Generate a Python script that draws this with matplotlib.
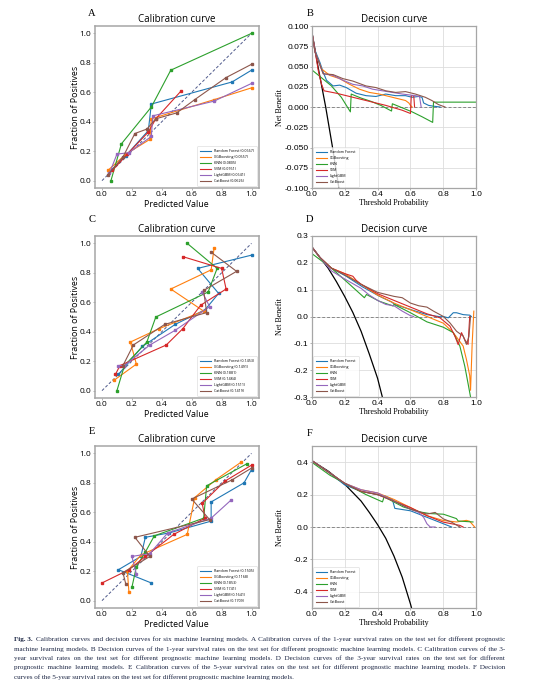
import matplotlib
matplotlib.use('Agg')
import matplotlib.pyplot as plt
from matplotlib.ticker import FormatStrFormatter

plt.rcParams['axes.unicode_minus'] = False

# ---------------- data ----------------
models = ["Random Forest", "XGBoosting", "KNN", "SVM", "LightGBM", "CatBoost"]
colors = ["#1f77b4", "#ff7f0e", "#2ca02c", "#d62728", "#9467bd", "#8c564b"]

brierA = ["0.0667", "0.0557", "0.0805", "0.0761", "0.0641", "0.0626"]
brierC = ["0.1453", "0.1491", "0.1881", "0.1484", "0.1511", "0.1419"]
brierE = ["0.1505", "0.1168", "0.1853", "0.1741", "0.1641", "0.1709"]

perfect = [0.0, 1.0]

# Panel A calibration (1-year)
calA_x = [
    [0.05, 0.16, 0.31, 0.33, 0.87, 1.0],
    [0.04, 0.16, 0.32, 0.33, 0.75, 1.0],
    [0.06, 0.13, 0.33, 0.46, 1.0],
    [0.07, 0.17, 0.31, 0.36, 0.53],
    [0.05, 0.10, 0.18, 0.33, 0.34, 0.75, 1.0],
    [0.04, 0.14, 0.22, 0.30, 0.36, 0.50, 0.62, 0.83, 1.0],
]
calA_y = [
    [0.06, 0.17, 0.34, 0.52, 0.67, 0.75],
    [0.07, 0.18, 0.28, 0.42, 0.55, 0.63],
    [0.0, 0.25, 0.50, 0.75, 1.0],
    [0.07, 0.18, 0.33, 0.42, 0.61],
    [0.05, 0.18, 0.19, 0.30, 0.44, 0.54, 0.66],
    [0.04, 0.16, 0.32, 0.35, 0.42, 0.46, 0.55, 0.70, 0.79],
]

# Panel C calibration (3-year)
calC_x = [
    [0.11, 0.27, 0.49, 0.69, 0.78, 0.64, 1.0],
    [0.08, 0.23, 0.19, 0.38, 0.68, 0.46, 0.73, 0.75],
    [0.10, 0.15, 0.30, 0.36, 0.71, 0.77, 0.57],
    [0.09, 0.12, 0.43, 0.54, 0.66, 0.83, 0.80, 0.54],
    [0.11, 0.15, 0.32, 0.49, 0.72, 0.67],
    [0.14, 0.21, 0.42, 0.70, 0.68, 0.90, 0.73],
]
calC_y = [
    [0.11, 0.30, 0.45, 0.55, 0.66, 0.83, 0.92],
    [0.07, 0.18, 0.33, 0.42, 0.54, 0.69, 0.82, 0.97],
    [0.0, 0.17, 0.33, 0.50, 0.67, 0.83, 1.0],
    [0.11, 0.17, 0.31, 0.42, 0.58, 0.69, 0.83, 0.91],
    [0.17, 0.17, 0.31, 0.41, 0.57, 0.67],
    [0.17, 0.31, 0.45, 0.53, 0.68, 0.81, 0.94],
]

# Panel E calibration (5-year)
calE_x = [
    [0.33, 0.11, 0.26, 0.29, 0.45, 0.73, 0.73, 0.95, 1.0],
    [0.18, 0.17, 0.26, 0.57, 0.62, 0.76, 0.93],
    [0.20, 0.23, 0.29, 0.35, 0.68, 0.70, 0.97],
    [0.0, 0.18, 0.29, 0.48, 0.69, 0.67, 0.82, 1.0],
    [0.23, 0.20, 0.32, 0.44, 0.73, 0.86],
    [0.16, 0.14, 0.32, 0.22, 0.72, 0.60, 0.87, 1.0],
]
calE_y = [
    [0.12, 0.21, 0.30, 0.43, 0.46, 0.54, 0.67, 0.80, 0.89],
    [0.06, 0.20, 0.31, 0.45, 0.70, 0.82, 0.94],
    [0.09, 0.23, 0.33, 0.44, 0.56, 0.78, 0.93],
    [0.12, 0.21, 0.30, 0.45, 0.56, 0.66, 0.81, 0.92],
    [0.18, 0.30, 0.32, 0.46, 0.56, 0.68],
    [0.11, 0.19, 0.30, 0.43, 0.55, 0.69, 0.82, 0.90],
]

# Panel B decision curve (1-year)
allB_x = [0.0, 0.04, 0.085, 0.125, 0.165]
allB_y = [0.094, 0.048, 0.0, -0.048, -0.1]
dcaB_x = [
    [0, 0.02, 0.05, 0.07, 0.09, 0.13, 0.17, 0.21, 0.27, 0.33, 0.39, 0.45, 0.51, 0.57, 0.61, 0.65, 0.67, 0.68, 0.71, 0.74, 0.78],
    [0, 0.02, 0.06, 0.11, 0.17, 0.23, 0.29, 0.35, 0.41, 0.47, 0.53, 0.57, 0.59, 0.60, 0.61],
    [0, 0.06, 0.12, 0.18, 0.235, 0.24, 0.30, 0.36, 0.42, 0.485, 0.49, 0.55, 0.61, 0.67, 0.735, 0.74, 1.0],
    [0, 0.02, 0.04, 0.06, 0.075, 0.15, 0.25, 0.35, 0.45, 0.55, 0.60, 0.605, 0.62, 0.625],
    [0, 0.02, 0.07, 0.13, 0.19, 0.25, 0.31, 0.37, 0.43, 0.49, 0.55, 0.59, 0.63, 0.655, 0.665],
    [0, 0.02, 0.07, 0.13, 0.19, 0.25, 0.33, 0.39, 0.45, 0.51, 0.57, 0.63, 0.69, 0.73, 0.77, 0.81],
]
dcaB_y = [
    [0.094, 0.070, 0.055, 0.043, 0.033, 0.026, 0.027, 0.024, 0.017, 0.014, 0.013, 0.016, 0.014, 0.014, 0.012, 0.013, 0.012, 0.005, 0.002, 0.001, 0.0],
    [0.094, 0.068, 0.047, 0.039, 0.035, 0.028, 0.022, 0.018, 0.016, 0.013, 0.010, 0.008, 0.005, 0.002, 0.0],
    [0.046, 0.036, 0.026, 0.012, -0.006, 0.016, 0.011, 0.007, 0.002, -0.005, 0.004, -0.001, -0.006, -0.012, -0.019, 0.006, 0.006],
    [0.094, 0.070, 0.045, 0.028, 0.020, 0.017, 0.012, 0.007, 0.002, -0.004, -0.008, 0.014, 0.014, 0.0],
    [0.094, 0.068, 0.041, 0.039, 0.033, 0.028, 0.026, 0.022, 0.020, 0.018, 0.016, 0.015, 0.014, 0.013, 0.0],
    [0.094, 0.068, 0.041, 0.040, 0.035, 0.032, 0.026, 0.024, 0.020, 0.018, 0.019, 0.016, 0.012, 0.008, 0.003, 0.0],
]

# Panel D decision curve (3-year)
allD_x = [0.0, 0.05, 0.1, 0.15, 0.2, 0.25, 0.3, 0.35, 0.4, 0.45]
allD_y = [0.26, 0.22, 0.18, 0.13, 0.075, 0.015, -0.055, -0.14, -0.23, -0.35]
dcaD_x = [
    [0, 0.05, 0.12, 0.21, 0.31, 0.41, 0.485, 0.505, 0.6, 0.7, 0.78, 0.8, 0.83, 0.86, 0.88, 0.92, 0.96, 0.97],
    [0, 0.05, 0.12, 0.2, 0.3, 0.4, 0.5, 0.6, 0.7, 0.8, 0.86, 0.92, 0.94, 0.96, 0.965, 0.975, 0.985],
    [0, 0.12, 0.23, 0.32, 0.333, 0.41, 0.495, 0.5, 0.6, 0.7, 0.8, 0.86, 0.9, 0.93, 0.95, 0.965],
    [0, 0.05, 0.12, 0.2, 0.25, 0.27, 0.3, 0.4, 0.5, 0.6, 0.7, 0.78, 0.84, 0.87, 0.89, 0.91, 0.93, 0.95, 0.96],
    [0, 0.05, 0.12, 0.2, 0.3, 0.35, 0.4, 0.45, 0.5, 0.55, 0.6, 0.62],
    [0, 0.05, 0.12, 0.2, 0.3, 0.4, 0.5, 0.55, 0.6, 0.65, 0.7, 0.74, 0.8, 0.84, 0.88, 0.92, 0.94, 0.955, 0.965],
]
dcaD_y = [
    [0.26, 0.22, 0.18, 0.15, 0.11, 0.076, 0.054, 0.045, 0.026, 0.007, -0.001, 0.0, -0.005, 0.014, 0.014, 0.007, 0.005, 0.0],
    [0.26, 0.22, 0.18, 0.16, 0.12, 0.08, 0.05, 0.025, 0.0, -0.025, -0.06, -0.11, -0.16, -0.22, -0.275, -0.1, 0.02],
    [0.235, 0.18, 0.12, 0.07, 0.082, 0.057, 0.039, 0.045, 0.014, -0.02, -0.04, -0.06, -0.11, -0.185, -0.25, -0.3],
    [0.26, 0.22, 0.18, 0.16, 0.15, 0.135, 0.12, 0.085, 0.06, 0.035, 0.01, -0.005, -0.036, -0.073, -0.105, -0.06, -0.086, -0.104, 0.0],
    [0.26, 0.22, 0.17, 0.14, 0.105, 0.08, 0.06, 0.045, 0.04, 0.02, 0.003, 0.0],
    [0.26, 0.22, 0.18, 0.155, 0.12, 0.09, 0.075, 0.07, 0.05, 0.04, 0.035, 0.02, 0.0, -0.024, -0.055, -0.073, -0.104, -0.075, 0.0],
]

# Panel F decision curve (5-year)
allF_x = [0.0, 0.1, 0.2, 0.3, 0.35, 0.4, 0.45, 0.5, 0.55, 0.6, 0.62]
allF_y = [0.41, 0.345, 0.265, 0.16, 0.09, 0.015, -0.07, -0.18, -0.31, -0.475, -0.55]
dcaF_x = [
    [0, 0.1, 0.2, 0.3, 0.4, 0.45, 0.49, 0.505, 0.6, 0.7, 0.8, 0.85],
    [0, 0.1, 0.2, 0.3, 0.4, 0.5, 0.6, 0.7, 0.8, 0.88, 0.94, 0.96, 0.99],
    [0, 0.11, 0.2, 0.33, 0.43, 0.44, 0.556, 0.657, 0.717, 0.8, 0.879, 0.89, 0.98],
    [0, 0.1, 0.2, 0.3, 0.4, 0.5, 0.6, 0.7, 0.8, 0.9, 0.92],
    [0, 0.1, 0.2, 0.3, 0.4, 0.5, 0.6, 0.65, 0.68, 0.7, 0.72, 0.75],
    [0, 0.1, 0.2, 0.3, 0.4, 0.5, 0.6, 0.7, 0.75, 0.8, 0.85, 0.9],
]
dcaF_y = [
    [0.41, 0.34, 0.26, 0.22, 0.2, 0.19, 0.17, 0.115, 0.1, 0.06, 0.02, 0.0],
    [0.41, 0.34, 0.27, 0.23, 0.21, 0.17, 0.12, 0.07, 0.04, 0.031, 0.041, 0.035, 0.0],
    [0.40, 0.32, 0.27, 0.20, 0.155, 0.186, 0.124, 0.093, 0.083, 0.079, 0.052, 0.037, 0.031],
    [0.41, 0.34, 0.27, 0.22, 0.2, 0.16, 0.12, 0.07, 0.03, 0.01, 0.0],
    [0.41, 0.34, 0.27, 0.23, 0.21, 0.16, 0.11, 0.09, 0.06, 0.02, 0.0, 0.0],
    [0.41, 0.34, 0.27, 0.22, 0.2, 0.16, 0.11, 0.08, 0.09, 0.05, 0.03, 0.0],
]

cal_ticks = [0.0, 0.2, 0.4, 0.6, 0.8, 1.0]
yticksB = [0.100, 0.075, 0.050, 0.025, 0.0, -0.025, -0.050, -0.075, -0.100]
yticksD = [0.3, 0.2, 0.1, 0.0, -0.1, -0.2, -0.3]
yticksF = [0.4, 0.2, 0.0, -0.2, -0.4]

caption_bold = "Fig. 3."
caption_lines = [
    "Calibration curves and decision curves for six machine learning models. A Calibration curves of the 1-year survival rates on the test set for different prognostic",
    "machine learning models. B Decision curves of the 1-year survival rates on the test set for different prognostic machine learning models. C Calibration curves of the 3-",
    "year survival rates on the test set for different prognostic machine learning models. D Decision curves of the 3-year survival rates on the test set for different",
    "prognostic machine learning models. E Calibration curves of the 5-year survival rates on the test set for different prognostic machine learning models. F Decision",
    "curves of the 5-year survival rates on the test set for different prognostic machine learning models.",
]

# ---------------- drawing ----------------
W, H = 555, 696
fig = plt.figure(figsize=(W / 100, H / 100), dpi=100)
fig.patch.set_facecolor('white')

SANS = ['Open Sans', 'DejaVu Sans']
ARIAL = ['Liberation Sans', 'DejaVu Sans']
SERIF = ['Liberation Serif', 'DejaVu Serif']
SPINE = '#a6a6a6'


def add_ax(l, t, r, b):
    return fig.add_axes([l / W, 1 - b / H, (r - l) / W, (b - t) / H])


def style_spines(ax, lw):
    for s in ax.spines.values():
        s.set_color(SPINE)
        s.set_linewidth(lw)


def style_legend(leg):
    leg.get_frame().set_edgecolor('#cccccc')
    leg.get_frame().set_linewidth(0.4)
    for h in leg.get_lines():
        h.set_linewidth(0.8)


def cal_panel(ax, xs, ys, briers):
    ax.plot(perfect, perfect, ls='--', color='#4f5a8c', lw=0.7, dashes=(3, 2))
    for x, y, c, m, b in zip(xs, ys, colors, models, briers):
        ax.plot(x, y, color=c, lw=0.8, label=f"{m} ({b})")
        ax.plot(x, y, ls='none', marker='s', ms=1.8, color=c)
    ax.set_xlim(-0.05, 1.05)
    ax.set_ylim(-0.05, 1.05)
    ax.set_xticks(cal_ticks)
    ax.set_yticks(cal_ticks)
    ax.xaxis.set_major_formatter(FormatStrFormatter('%.1f'))
    ax.yaxis.set_major_formatter(FormatStrFormatter('%.1f'))
    ax.tick_params(length=1.5, width=0.6, pad=0.8, labelsize=6, color=SPINE)
    for lab in ax.get_xticklabels() + ax.get_yticklabels():
        lab.set_family(SANS)
    style_spines(ax, 1.1)
    ax.set_title("Calibration curve", family=SANS, fontsize=7, y=1.005, va='bottom', pad=0)
    ax.set_xlabel("Predicted Value", family=SANS, fontsize=6.4, va='center')
    ax.xaxis.set_label_coords(0.5, -0.099)
    ax.set_ylabel("Fraction of Positives", family=SANS, fontsize=6.4, va='center')
    ax.yaxis.set_label_coords(-0.118, 0.5)
    leg = ax.legend(loc='lower right', handlelength=3.2, frameon=True,
                    borderpad=0.8, labelspacing=0.55, borderaxespad=0.5,
                    prop={'family': SANS, 'size': 2.6})
    style_legend(leg)


def dca_panel(ax, xs, ys, allx, ally, ylim, yticks, fmt):
    ax.grid(True, color='#dddddd', lw=0.6)
    ax.set_axisbelow(True)
    ax.axhline(0, color='#888888', lw=0.7, ls='--', dashes=(3, 2))
    ax.plot(allx, ally, color='black', lw=0.9)
    for x, y, c, m in zip(xs, ys, colors, models):
        ax.plot(x, y, color=c, lw=0.8, label=m)
    ax.set_xlim(0, 1)
    ax.set_ylim(*ylim)
    ax.set_xticks(cal_ticks)
    ax.set_yticks(yticks)
    ax.xaxis.set_major_formatter(FormatStrFormatter('%.1f'))
    ax.yaxis.set_major_formatter(FormatStrFormatter(fmt))
    ax.tick_params(length=1.5, width=0.6, pad=0.8, labelsize=6, color=SPINE)
    for lab in ax.get_xticklabels() + ax.get_yticklabels():
        lab.set_family(ARIAL)
    style_spines(ax, 0.9)
    ax.set_title("Decision curve", family=SANS, fontsize=7, y=1.005, va='bottom', pad=0)
    ax.set_xlabel("Threshold Probability", family=SERIF, fontsize=5.8, va='center')
    ax.xaxis.set_label_coords(0.5, -0.093)
    ax.set_ylabel("Net Benefit", family=SERIF, fontsize=5.8, va='center')
    ax.yaxis.set_label_coords(-0.193, 0.5)
    leg = ax.legend(loc='lower left', handlelength=3.2, frameon=True,
                    borderpad=0.8, labelspacing=0.55, borderaxespad=0.3,
                    prop={'family': SANS, 'size': 2.6})
    style_legend(leg)


axA = add_ax(94.5, 26, 259, 188)
axB = add_ax(311.7, 26, 476.3, 188)
axC = add_ax(94.5, 236, 259, 398)
axD = add_ax(311.7, 236, 476.3, 397)
axE = add_ax(94.5, 446, 259, 608)
axF = add_ax(311.7, 446, 476.3, 608)

cal_panel(axA, calA_x, calA_y, brierA)
cal_panel(axC, calC_x, calC_y, brierC)
cal_panel(axE, calE_x, calE_y, brierE)
dca_panel(axB, dcaB_x, dcaB_y, allB_x, allB_y, (-0.1, 0.1), yticksB, '%.3f')
dca_panel(axD, dcaD_x, dcaD_y, allD_x, allD_y, (-0.3, 0.3), yticksD, '%.1f')
dca_panel(axF, dcaF_x, dcaF_y, allF_x, allF_y, (-0.5, 0.5), yticksF, '%.1f')

# panel letters
for letter, (px, py) in zip("ABCDEF", [(91.7, 13.5), (310, 13.5), (92.3, 219), (309.3, 219), (91.7, 432), (310, 433)]):
    fig.text(px / W, 1 - py / H, letter, family=SERIF, fontsize=7.6, ha='center', va='center')

# caption: one text per line, justified with hair spaces
renderer = fig.canvas.get_renderer()
cap_fs = 5.1
cap_color = '#1d2745'
x0, x1 = 14.0, 505.0
cap_base = [641, 650.5, 660, 669.5, 679]
HAIR = '\u200a'
cap_kw = dict(family=SERIF, fontsize=cap_fs, color=cap_color, ha='left', va='baseline')


def width_of(s, **kw):
    t = fig.text(0, 0, s, **{**cap_kw, **kw})
    w = t.get_window_extent(renderer=renderer).width
    t.remove()
    return w


hair_w = (width_of('x' + HAIR * 40 + 'x') - width_of('xx')) / 40.0
if hair_w <= 0.05:
    HAIR = '\u2009'
    hair_w = (width_of('x' + HAIR * 40 + 'x') - width_of('xx')) / 40.0

for i, line in enumerate(caption_lines):
    start = x0
    if i == 0:
        tb = fig.text(x0 / W, 1 - cap_base[i] / H, caption_bold, weight='bold', **cap_kw)
        start = x0 + tb.get_window_extent(renderer=renderer).width + 0.5 * cap_fs * 100 / 72
    words = line.split(' ')
    s = ' '.join(words)
    if i < len(caption_lines) - 1 and hair_w > 0.05:
        natural = width_of(s)
        extra = (x1 - start) - natural
        n_gaps = len(words) - 1
        n_hair = max(0, int(round(extra / hair_w)))
        base, rem = divmod(n_hair, n_gaps)
        parts = [words[0]]
        for g in range(n_gaps):
            k = base + (1 if g < rem else 0)
            parts.append(' ' + HAIR * k + words[g + 1])
        s = ''.join(parts)
    fig.text(start / W, 1 - cap_base[i] / H, s, **cap_kw)

fig.savefig('out.png', dpi=100, facecolor='white')
